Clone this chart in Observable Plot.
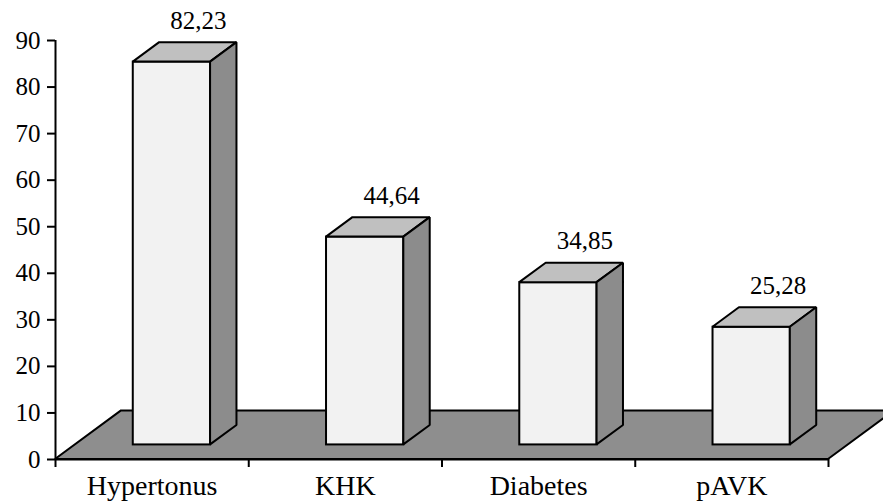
<!DOCTYPE html>
<html>
<head>
<meta charset="utf-8">
<script src="https://cdn.jsdelivr.net/npm/d3@7"></script>
<script src="https://cdn.jsdelivr.net/npm/@observablehq/plot@0.6"></script>
<style>
  html, body { margin: 0; padding: 0; background: #fff; overflow: hidden; }
  svg text { font-family: "Liberation Serif", "Times New Roman", Times, serif !important; }
</style>
</head>
<body>
<div id="chart"></div>
<script>
// ---- data ----
const categories = ["Hypertonus", "KHK", "Diabetes", "pAVK"];
const values = [82.23, 44.64, 34.85, 25.28];
const valueLabels = ["82,23", "44,64", "34,85", "25,28"];
const yTicks = [0, 10, 20, 30, 40, 50, 60, 70, 80, 90];

// ---- 3D geometry (depth of the floor expressed in scale units) ----
const DX = 0.3415;   // horizontal depth shift, in category-band units
const DY = 10.44;    // vertical depth shift, in value units
const FRONT = 0.3, BACK = 0.7;   // bar position inside the floor depth
const BAR0 = 0.3, BAR1 = 0.7;    // bar position inside the category band

const serif = "'Liberation Serif', 'Times New Roman', Times, serif";

const rows = categories.map((c, i) => ({cat: c, i, v: values[i], label: valueLabels[i]}));

const floor = [
  {y: 0, x1: 0, x2: categories.length},
  {y: DY, x1: DX, x2: categories.length + DX}
];

const topFaces = rows.flatMap(d => [
  {cat: d.cat, y: FRONT * DY + d.v, x1: d.i + BAR0 + FRONT * DX, x2: d.i + BAR1 + FRONT * DX},
  {cat: d.cat, y: BACK * DY + d.v, x1: d.i + BAR0 + BACK * DX, x2: d.i + BAR1 + BACK * DX}
]);
const sideFaces = rows.flatMap(d => [
  {cat: d.cat, x: d.i + BAR1 + FRONT * DX, y1: FRONT * DY, y2: FRONT * DY + d.v},
  {cat: d.cat, x: d.i + BAR1 + BACK * DX, y1: BACK * DY, y2: BACK * DY + d.v}
]);

const stroke = "#000";
const sw = 2;

const chart = Plot.plot({
  width: 883,
  height: 502,
  marginLeft: 55,
  marginRight: 55,
  marginTop: 40,
  marginBottom: 43,
  style: {fontFamily: serif, background: "#fff", color: "#000"},
  x: {type: "linear", domain: [0, categories.length]},
  y: {domain: [0, 90]},
  marks: [
    // floor
    Plot.areaX(floor, {y: "y", x1: "x1", x2: "x2", fill: "#8e8e8e", stroke, strokeWidth: sw, strokeLinejoin: "miter"}),
    // bar fronts
    Plot.rect(rows, {
      x1: d => d.i + BAR0 + FRONT * DX,
      x2: d => d.i + BAR1 + FRONT * DX,
      y1: () => FRONT * DY,
      y2: d => FRONT * DY + d.v,
      fill: "#f2f2f2", stroke, strokeWidth: sw
    }),
    // bar tops
    Plot.areaX(topFaces, {y: "y", x1: "x1", x2: "x2", z: "cat", fill: "#c0c0c0", stroke, strokeWidth: sw, strokeLinejoin: "miter"}),
    // bar sides
    Plot.areaY(sideFaces, {x: "x", y1: "y1", y2: "y2", z: "cat", fill: "#8c8c8c", stroke, strokeWidth: sw, strokeLinejoin: "miter"}),
    // value labels
    Plot.text(rows, {
      x: d => d.i + 0.5 + BACK * DX,
      y: d => BACK * DY + d.v,
      text: "label",
      lineAnchor: "bottom",
      dy: -14,
      fontSize: 25,
      fontFamily: serif,
      fill: "#000"
    }),
    // y axis
    Plot.axisY({ticks: yTicks, tickSize: 8, tickPadding: 7, fontSize: 25, fontFamily: serif, strokeWidth: sw, tickFormat: d => String(d)}),
    Plot.ruleX([0], {y1: 0, y2: 90, stroke, strokeWidth: sw}),
    // x axis
    Plot.ruleY([0], {stroke, strokeWidth: sw}),
    Plot.axisX({ticks: d3.range(0, categories.length + 1), tickSize: 8, tickFormat: () => "", strokeWidth: sw}),
    Plot.axisX({
      ticks: categories.map((c, i) => i + 0.5),
      tickSize: 0,
      tickPadding: 16,
      fontSize: 28,
      fontFamily: serif,
      tickFormat: d => categories[Math.floor(d)]
    })
  ]
});
document.getElementById("chart").appendChild(chart);
</script>
</body>
</html>
